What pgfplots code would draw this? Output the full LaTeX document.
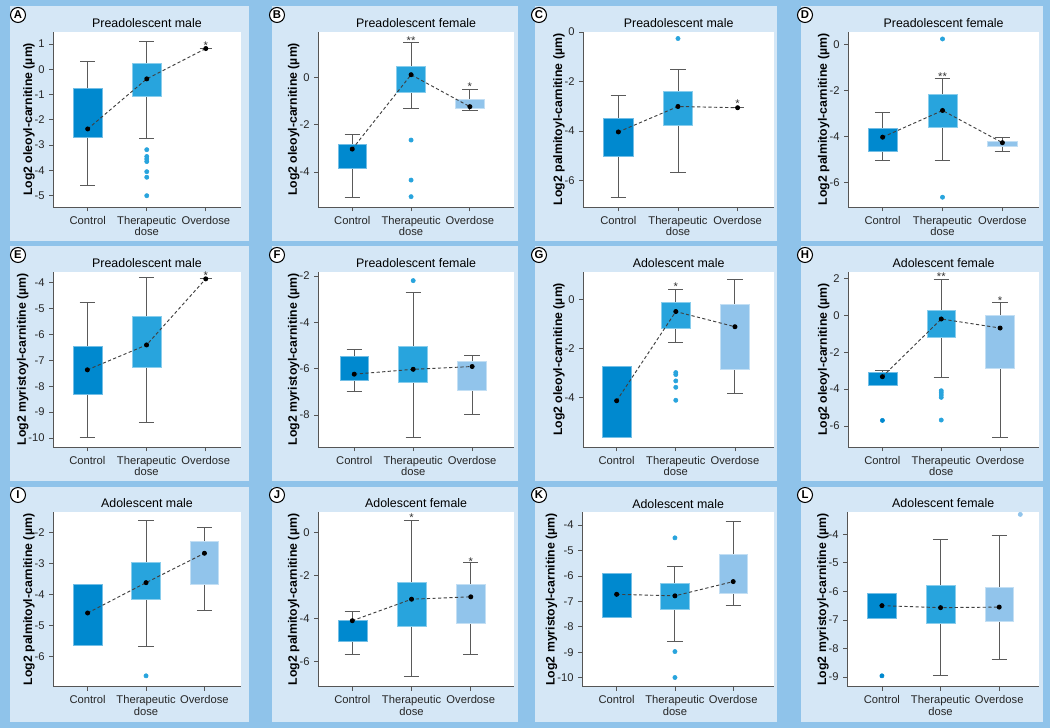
\documentclass[border=0pt]{standalone}
\usepackage{fontspec}
\setmainfont{Liberation Sans}
\usepackage{pgfplots}
\pgfplotsset{compat=1.18}
\usepgfplotslibrary{statistics}

\definecolor{bgblue}{RGB}{143,195,234}
\definecolor{panelblue}{RGB}{213,231,246}
\definecolor{ctrl}{RGB}{0,137,207}
\definecolor{ther}{RGB}{40,164,221}
\definecolor{over}{RGB}{145,196,235}
\definecolor{axgray}{RGB}{85,85,85}
\definecolor{wgray}{RGB}{90,90,90}

% box: position, colour, lower whisker, lower quartile, upper quartile, upper whisker
\newcommand{\bx}[6]{%
  \addplot[draw=wgray, line width=0.7pt,
    boxplot prepared={draw direction=y, draw position=#1, lower whisker=#3, lower quartile=#4,
      median=#4, upper quartile=#5, upper whisker=#6},
    boxplot/every box/.style={draw=#2!55!white, line width=0.4pt, fill=#2},
    boxplot/every median/.style={draw=none}]
  coordinates {};}
% box without whiskers: position, colour, lower quartile, upper quartile
\newcommand{\bxn}[4]{%
  \addplot[draw=none,
    boxplot prepared={draw direction=y, draw position=#1, lower whisker=#3, lower quartile=#3,
      median=#3, upper quartile=#4, upper whisker=#4},
    boxplot/every box/.style={draw=#2!55!white, line width=0.4pt, fill=#2},
    boxplot/every median/.style={draw=none},
    boxplot/every whisker/.style={draw=none}]
  coordinates {};}
% single value group (overdose with n small)
\newcommand{\oneline}[1]{\addplot[wgray, line width=0.7pt] coordinates {(2.895,#1) (3.105,#1)};}
% outliers
\newcommand{\ol}[2]{\addplot[only marks, mark=*, mark size=1.6pt, color=#1] coordinates {#2};}
% means joined by dashed line
\newcommand{\mn}[3]{\addplot[draw=black!75, line width=0.7pt, dash pattern=on 2.4pt off 1.8pt,
  mark=*, mark size=1.5pt, mark options={solid, fill=black, draw=black}]
  coordinates {(1,#1) (2,#2) (3,#3)};}
% significance stars
\newcommand{\st}[3]{\node[font=\fontsize{8.4}{8}\selectfont, text=black!80, anchor=base,
  inner sep=0pt, yshift=-4.9pt] at (axis cs:#1,#2) {#3};}

\pgfplotsset{
  pan/.style={
    scale only axis, anchor=south west, clip=false,
    axis background/.style={fill=white},
    axis x line*=bottom, axis y line*=left,
    axis line style={-, draw=axgray, line width=0.6pt},
    tick style={draw=axgray, line width=0.6pt},
    tick align=outside, major tick length=3pt,
    xtick={1,2,3}, xticklabels={Control,{Therapeutic\\dose},Overdose},
    xticklabel style={align=center, font=\fontsize{8.4}{7.7}\selectfont, text=black!85},
    yticklabel style={font=\fontsize{8.4}{10}\selectfont, text=black!85},
    /pgf/number format/assume math mode=true,
    every axis title/.style={at={(0.5,1)}, anchor=base, yshift=3.3pt,
      font=\fontsize{9.3}{11}\selectfont},
    ylabel style={font=\bfseries\fontsize{9.2}{11}\selectfont, inner sep=0.5pt},
    ylabel shift=-4pt,
    boxplot/draw direction=y,
    boxplot/box extend=0.49, boxplot/whisker extend=0.26,
  }
}

\begin{document}
\begin{tikzpicture}
\useasboundingbox (0,0) rectangle (787.5pt,546pt);
\begin{scope}[x=0.75pt, y=-0.75pt, shift={(0pt,546pt)}]
  \fill[bgblue] (0,0) rectangle (1050,728);
  \foreach \xa/\xb in {10/249, 272/518, 535/777, 801/1043}
    \foreach \ya/\yb in {6/241, 246/481, 487/722}
      \fill[panelblue] (\xa,\ya) rectangle (\xb,\yb);
  \foreach \cx/\cy/\lt in {18/15/A, 277/15/B, 539/15/C, 805/15/D,
                           18/255/E, 277/255/F, 539/255/G, 805/255/H,
                           18/495/I, 277/495/J, 539/495/K, 805/495/L}
    \node[circle, draw=black, line width=0.8pt, fill=white, inner sep=0pt,
      minimum size=11.25pt, font=\bfseries\fontsize{8.5}{9}\selectfont] at (\cx,\cy) {\lt};
\end{scope}

% A
\begin{axis}[pan, at={(40.0pt,390.5pt)}, width=140.5pt, height=131.8pt,
  xmin=0.418, xmax=3.59, ymin=-5.46, ymax=1.49, ytick={-5,-4,...,1},
  title={Preadolescent male}, ylabel={Log2 oleoyl-carnitine (µm)}]
  \bx{1}{ctrl}{-4.59}{-2.69}{-0.75}{0.29}
  \bx{2}{ther}{-2.72}{-1.08}{0.22}{1.11}
  \oneline{0.82}
  \ol{ther}{(2,-3.18) (2,-3.45) (2,-3.55) (2,-3.65) (2,-4.05) (2,-4.27) (2,-5.0)}
  \mn{-2.36}{-0.38}{0.82}
  \st{3}{1.06}{*}
\end{axis}

% B
\begin{axis}[pan, at={(238.7pt,390.5pt)}, width=146.8pt, height=131.8pt,
  xmin=0.422, xmax=3.75, ymin=-5.49, ymax=1.93, ytick={-4,-2,0},
  title={Preadolescent female}, ylabel={Log2 oleoyl-carnitine (µm)}]
  \bx{1}{ctrl}{-5.08}{-3.85}{-2.82}{-2.42}
  \bx{2}{ther}{-1.31}{-0.62}{0.45}{1.48}
  \bx{3}{over}{-1.38}{-1.31}{-0.92}{-0.52}
  \ol{ther}{(2,-2.65) (2,-4.34) (2,-5.04)}
  \mn{-3.03}{0.11}{-1.24}
  \st{2}{1.68}{**}
  \st{3}{-0.30}{*}
\end{axis}

% C
\begin{axis}[pan, at={(437.5pt,390.5pt)}, width=143.0pt, height=131.8pt,
  xmin=0.413, xmax=3.61, ymin=-7.09, ymax=0.02, ytick={-6,-4,-2,0},
  title={Preadolescent male}, ylabel={Log2 palmitoyl-carnitine (µm)}]
  \bx{1}{ctrl}{-6.68}{-5.02}{-3.49}{-2.57}
  \bx{2}{ther}{-5.67}{-3.76}{-2.40}{-1.53}
  \oneline{-3.06}
  \ol{ther}{(2,-0.26)}
  \mn{-4.04}{-3.01}{-3.06}
  \st{3}{-2.79}{*}
\end{axis}

% D
\begin{axis}[pan, at={(636.2pt,390.5pt)}, width=143.0pt, height=131.8pt,
  xmin=0.426, xmax=3.61, ymin=-7.09, ymax=0.55, ytick={-6,-4,-2,0},
  title={Preadolescent female}, ylabel={Log2 palmitoyl-carnitine (µm)}]
  \bx{1}{ctrl}{-5.06}{-4.67}{-3.65}{-2.97}
  \bx{2}{ther}{-5.06}{-3.59}{-2.16}{-1.49}
  \bx{3}{over}{-4.67}{-4.45}{-4.20}{-4.04}
  \ol{ther}{(2,0.23) (2,-6.65)}
  \mn{-4.04}{-2.88}{-4.28}
  \st{2}{-1.29}{**}
\end{axis}

% E
\begin{axis}[pan, at={(40.0pt,210.5pt)}, width=140.5pt, height=131.8pt,
  xmin=0.425, xmax=3.59, ymin=-10.36, ymax=-3.58, ytick={-10,-9,...,-4},
  title={Preadolescent male}, ylabel={Log2 myristoyl-carnitine (µm)}]
  \bx{1}{ctrl}{-9.97}{-8.30}{-6.46}{-4.79}
  \bx{2}{ther}{-9.39}{-7.28}{-5.29}{-3.82}
  \oneline{-3.86}
  \mn{-7.37}{-6.41}{-3.86}
  \st{3}{-3.64}{*}
\end{axis}

% F
\begin{axis}[pan, at={(238.7pt,210.5pt)}, width=146.8pt, height=131.8pt,
  xmin=0.39, xmax=3.71, ymin=-9.40, ymax=-1.81, ytick={-8,-6,-4,-2},
  title={Preadolescent female}, ylabel={Log2 myristoyl-carnitine (µm)}]
  \bx{1}{ctrl}{-6.99}{-6.52}{-5.47}{-5.17}
  \bx{2}{ther}{-8.98}{-6.59}{-5.05}{-2.73}
  \bx{3}{over}{-7.97}{-6.95}{-5.70}{-5.45}
  \ol{ther}{(2,-2.2)}
  \mn{-6.24}{-6.03}{-5.91}
\end{axis}

% G
\begin{axis}[pan, at={(437.5pt,210.5pt)}, width=143.0pt, height=131.8pt,
  xmin=0.437, xmax=3.66, ymin=-6.04, ymax=1.13, ytick={-4,-2,0},
  title={Adolescent male}, ylabel={Log2 oleoyl-carnitine (µm)}]
  \bxn{1}{ctrl}{-5.63}{-2.75}
  \bx{2}{ther}{-1.76}{-1.17}{-0.12}{0.42}
  \bx{3}{over}{-3.86}{-2.84}{-0.20}{0.82}
  \ol{ther}{(2,-2.99) (2,-3.07) (2,-3.33) (2,-3.59) (2,-4.12)}
  \mn{-4.14}{-0.50}{-1.12}
  \st{2}{0.63}{*}
\end{axis}

% H
\begin{axis}[pan, at={(636.2pt,210.5pt)}, width=143.0pt, height=131.8pt,
  xmin=0.42, xmax=3.66, ymin=-7.16, ymax=2.37, ytick={-6,-4,-2,0,2},
  title={Adolescent female}, ylabel={Log2 oleoyl-carnitine (µm)}]
  \bx{1}{ctrl}{-3.82}{-3.82}{-3.11}{-2.97}
  \bx{2}{ther}{-3.35}{-1.19}{0.27}{1.95}
  \bx{3}{over}{-6.64}{-2.89}{0.02}{0.69}
  \ol{ctrl}{(1,-5.70)}
  \ol{ther}{(2,-4.09) (2,-4.20) (2,-4.32) (2,-4.45) (2,-5.68)}
  \mn{-3.33}{-0.20}{-0.69}
  \st{2}{2.22}{**}
  \st{3}{0.92}{*}
\end{axis}

% I
\begin{axis}[pan, at={(40.0pt,31.0pt)}, width=140.5pt, height=130.7pt,
  xmin=0.413, xmax=3.62, ymin=-6.97, ymax=-1.34, ytick={-6,-5,...,-2},
  title={Adolescent male}, ylabel={Log2 palmitoyl-carnitine (µm)}]
  \bxn{1}{ctrl}{-5.62}{-3.65}
  \bx{2}{ther}{-5.66}{-4.14}{-2.96}{-1.59}
  \bx{3}{over}{-4.51}{-3.67}{-2.26}{-1.84}
  \ol{ther}{(2,-6.62)}
  \mn{-4.59}{-3.61}{-2.66}
\end{axis}

% J
\begin{axis}[pan, at={(238.7pt,31.0pt)}, width=146.8pt, height=130.7pt,
  xmin=0.425, xmax=3.73, ymin=-7.16, ymax=0.95, ytick={-6,-4,-2,0},
  title={Adolescent female}, ylabel={Log2 palmitoyl-carnitine (µm)}]
  \bx{1}{ctrl}{-5.67}{-5.04}{-4.09}{-3.64}
  \bx{2}{ther}{-6.67}{-4.33}{-2.29}{0.59}
  \bx{3}{over}{-5.66}{-4.22}{-2.40}{-1.40}
  \mn{-4.09}{-3.09}{-2.98}
  \st{2}{0.82}{*}
  \st{3}{-1.22}{*}
\end{axis}

% K
\begin{axis}[pan, at={(436.7pt,31.0pt)}, width=143.8pt, height=130.7pt,
  xmin=0.41, xmax=3.70, ymin=-10.35, ymax=-3.50, ytick={-10,-9,...,-4},
  title={Adolescent male}, ylabel={Log2 myristoyl-carnitine (µm)}]
  \bxn{1}{ctrl}{-7.63}{-5.90}
  \bx{2}{ther}{-8.57}{-7.30}{-6.29}{-5.64}
  \bx{3}{over}{-7.15}{-6.68}{-5.15}{-3.84}
  \ol{ther}{(2,-4.50) (2,-8.97) (2,-9.99)}
  \mn{-6.72}{-6.78}{-6.22}
\end{axis}

% L
\begin{axis}[pan, at={(635.5pt,31.0pt)}, width=143.8pt, height=130.7pt,
  xmin=0.41, xmax=3.68, ymin=-9.34, ymax=-3.23, ytick={-9,-8,...,-4},
  title={Adolescent female}, ylabel={Log2 myristoyl-carnitine (µm)}]
  \bxn{1}{ctrl}{-6.94}{-6.05}
  \bx{2}{ther}{-8.96}{-7.11}{-5.78}{-4.18}
  \bx{3}{over}{-8.37}{-7.03}{-5.85}{-4.05}
  \ol{ctrl}{(1,-8.96)}
  \ol{over}{(3.36,-3.30)}
  \mn{-6.50}{-6.57}{-6.55}
\end{axis}
\end{tikzpicture}
\end{document}
